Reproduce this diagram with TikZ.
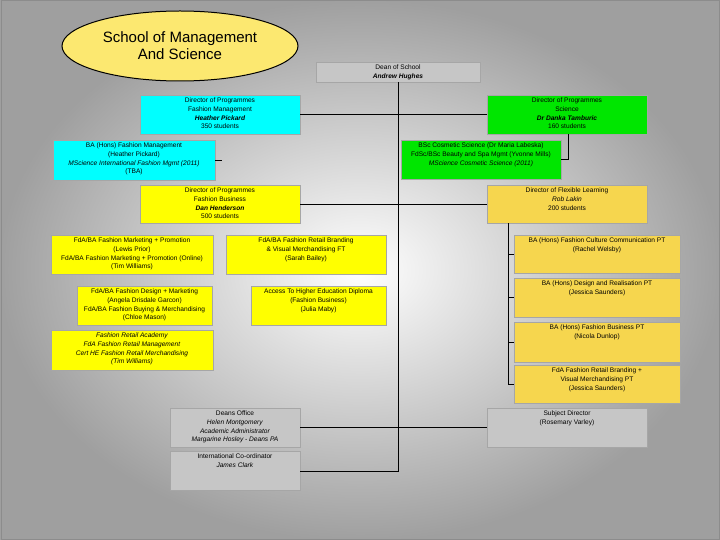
\documentclass[tikz,border=0pt]{standalone}
\usepackage{fontspec}
\setmainfont{Liberation Sans}
\usetikzlibrary{shapes.geometric}
\begin{document}
\begin{tikzpicture}[x=1pt,y=-1pt,
  bx/.style={draw=gray!70,line width=0.6pt,inner sep=0pt},
  tx/.style={anchor=north,align=center,font=\fontsize{6.6}{8.6}\selectfont,inner sep=0pt},
  ln/.style={draw=black,line width=0.8pt},
  cy/.style={bx,fill={rgb,255:red,0;green,255;blue,255}},
  gr/.style={bx,fill={rgb,255:red,0;green,230;blue,0}},
  ye/.style={bx,fill={rgb,255:red,255;green,255;blue,0}},
  go/.style={bx,fill={rgb,255:red,246;green,214;blue,78}},
  gy/.style={bx,fill=gray!45}]
\useasboundingbox (0,0) rectangle (720,540);
\shade[inner color=white,outer color=gray!75] (0,0) rectangle (720,540);
\draw[gray!90,line width=1pt] (1,1) rectangle (719,539);
\newcommand\bxx[7]{\node[#1,minimum width=#4-#2,minimum height=#5-#3] (#6) at ({(#2+#4)/2},{(#3+#5)/2}) {};
 \node[tx] (#6t) at ({(#2+#4)/2},#3+3) {#7};}
% ellipse
\node[draw=black,line width=1pt,fill={rgb,255:red,252;green,232;blue,112},ellipse,minimum width=236,minimum height=70,align=center,font=\fontsize{15}{17}\selectfont] (title) at (180,46) {School of Management\\And Science};
\bxx{gy}{316}{62}{480}{82}{dean}{Dean of School\\\textbf{\textit{Andrew Hughes}}}
\bxx{cy}{140}{95}{300}{134}{cdop}{Director of Programmes\\Fashion Management\\\textbf{\textit{Heather Pickard}}\\350 students}
\bxx{cy}{53}{140}{215}{180}{cba}{BA (Hons) Fashion Management\\(Heather Pickard)\\\textit{MScience International Fashion Mgmt (2011)}\\(TBA)}
\bxx{gr}{487}{95}{647}{134}{gdop}{Director of Programmes\\Science\\\textbf{\textit{Dr Danka Tamburic}}\\160 students}
\bxx{gr}{401}{140}{561}{179}{gbsc}{BSc Cosmetic Science (Dr Maria Labeska)\\FdSc/BSc Beauty and Spa Mgmt (Yvonne Mills)\\\textit{MScience Cosmetic Science (2011)}}
\bxx{ye}{140}{185}{300}{223}{ydop}{Director of Programmes\\Fashion Business\\\textbf{\textit{Dan Henderson}}\\500 students}
\bxx{go}{487}{185}{647}{223}{flex}{Director of Flexible Learning\\\textit{Rob Lakin}\\200 students}
\bxx{ye}{51}{235}{213}{274}{y1}{FdA/BA Fashion Marketing + Promotion\\(Lewis Prior)\\FdA/BA Fashion Marketing + Promotion (Online)\\(Tim Williams)}
\bxx{ye}{226}{235}{386}{274}{y2}{FdA/BA Fashion Retail Branding\\\& Visual Merchandising FT\\(Sarah Bailey)}
\bxx{ye}{77}{286}{212}{325}{y3}{FdA/BA Fashion Design + Marketing\\(Angela Drisdale Garcon)\\FdA/BA Fashion Buying \& Merchandising\\(Chloe Mason)}
\bxx{ye}{251}{286}{386}{325}{y4}{Access To Higher Education Diploma\\(Fashion Business)\\(Julia Maby)}
\bxx{ye}{51}{330}{213}{370}{y5}{\textit{Fashion Retail Academy}\\\textit{FdA Fashion Retail Management}\\\textit{Cert HE Fashion Retail Merchandising}\\\textit{(Tim Williams)}}
\bxx{go}{514}{235}{680}{273}{f1}{BA (Hons) Fashion Culture Communication PT\\(Rachel Welsby)}
\bxx{go}{514}{278}{680}{317}{f2}{BA (Hons) Design and Realisation PT\\(Jessica Saunders)}
\bxx{go}{514}{322}{680}{362}{f3}{BA (Hons) Fashion Business PT\\(Nicola Dunlop)}
\bxx{go}{514}{365}{680}{403}{f4}{FdA Fashion Retail Branding +\\Visual Merchandising PT\\(Jessica Saunders)}
\bxx{gy}{170}{408}{300}{447}{doff}{Deans Office\\\textit{Helen Montgomery}\\\textit{Academic Administrator}\\\textit{Margarine Hosley - Deans PA}}
\bxx{gy}{170}{451}{300}{490}{intl}{International Co-ordinator\\\textit{James Clark}}
\bxx{gy}{487}{408}{647}{447}{subj}{Subject Director\\(Rosemary Varley)}
% connectors
\coordinate (tb) at (398,471);
\draw[ln] (dean.south) -- (tb) -- (intl.east |- tb);
\draw[ln] (cdop.east) -- (gdop.west);
\draw[ln] (ydop.east) -- (flex.west);
\draw[ln] (doff.east) -- (subj.west);
\draw[ln] (cba.east) -- ++(7,0);
\draw[ln] (568,0 |- gdop.south) |- (gbsc.east);
\draw[ln] (508,0 |- flex.south) |- (f4.west);
\foreach \f in {f1,f2,f3} \draw[ln] (508,0 |- \f.west) -- (\f.west);
\end{tikzpicture}
\end{document}
